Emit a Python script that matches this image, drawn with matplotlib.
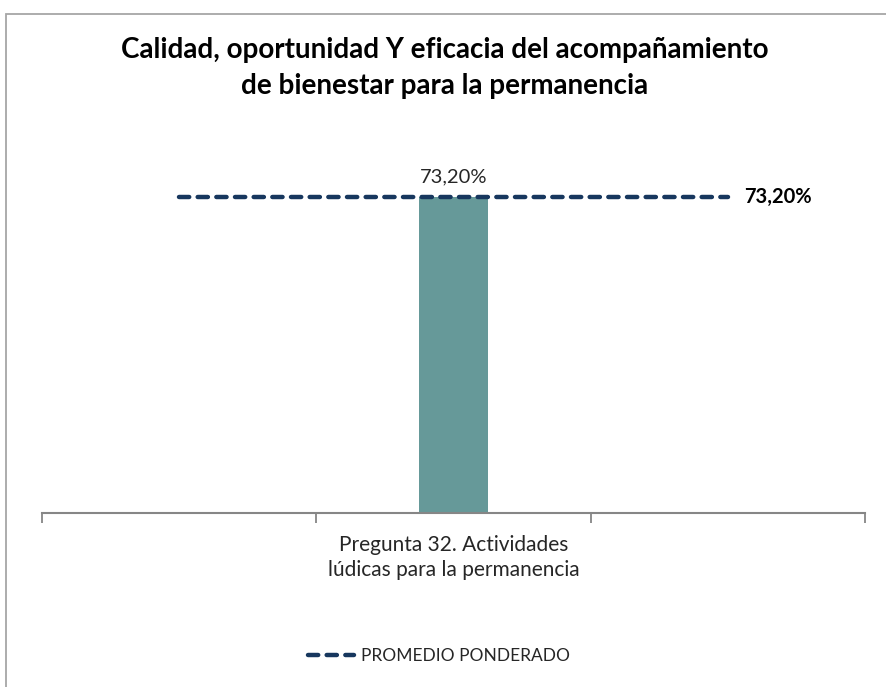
import numpy as np
import matplotlib as mpl
mpl.use('Agg')
import matplotlib.pyplot as plt
from matplotlib.lines import Line2D
from matplotlib.patches import Rectangle

# data
categorias = ['', 'Pregunta 32. Actividades\nlúdicas para la permanencia', '']
valores = [np.nan, 73.2, np.nan]
promedio = [73.2, 73.2, 73.2]
etiqueta_valor = '73,20%'
etiqueta_promedio = '73,20%'
titulo = 'Calidad, oportunidad Y eficacia del acompañamiento\nde bienestar para la permanencia'
leyenda = 'PROMEDIO PONDERADO'

plt.rcParams['font.family'] = ['Lato', 'DejaVu Sans']

color_barra = '#669999'
color_linea = '#17375e'
color_eje = '#868686'
guiones = (0, (2.3, 1.9))

fig = plt.figure(figsize=(8.87, 6.87), dpi=100)
fig.patches.append(Rectangle((6/887, -0.1), 2.0, (687-14)/687 + 0.1,
                             transform=fig.transFigure, fill=False,
                             edgecolor='#a6a6a6', linewidth=1.3))

ax = fig.add_axes([42/887, 174.5/687, 823/887, 345/687])
x = np.arange(len(categorias))
ax.bar(x, valores, width=0.25, color=color_barra, zorder=2)
ax.plot(x, promedio, color=color_linea, linewidth=3.2, linestyle=guiones,
        dash_capstyle='round', zorder=3)

ax.text(1, valores[1] + 2.6, etiqueta_valor, ha='center', va='bottom', fontsize=14.5, color='#262626')
ax.annotate(etiqueta_promedio, xy=(2, promedio[2]), xytext=(12, 0), textcoords='offset points',
            ha='left', va='center', fontsize=14.5, fontweight='bold', color='black')

ax.set_xlim(-0.5, 2.5)
ax.set_ylim(0, 80)
ax.set_xticks([-0.5, 0.5, 1.5, 2.5])
ax.set_xticklabels([])
ax.set_xticks(x, minor=True)
ax.set_xticklabels(categorias, minor=True, fontsize=15, color='#262626', linespacing=1.3)
ax.tick_params(axis='x', which='major', length=7, color=color_eje, width=1.3)
ax.tick_params(axis='x', which='minor', length=0, pad=16)
ax.set_yticks([])
for s in ['top', 'right', 'left']:
    ax.spines[s].set_visible(False)
ax.spines['bottom'].set_color(color_eje)
ax.spines['bottom'].set_linewidth(1.5)

fig.text(445/887, 1 - 68/687, titulo, ha='center', va='center', fontsize=20,
         fontweight='bold', linespacing=1.5, color='black')

h = Line2D([], [], color=color_linea, linewidth=3.2, linestyle=guiones,
           dash_capstyle='round')
fig.legend([h], [leyenda], loc='center', bbox_to_anchor=(439/887, 1 - 656/687),
           frameon=False, fontsize=12.5, handlelength=2.7, handletextpad=0.4,
           labelcolor='#262626')

fig.savefig('out.png', dpi=100)
